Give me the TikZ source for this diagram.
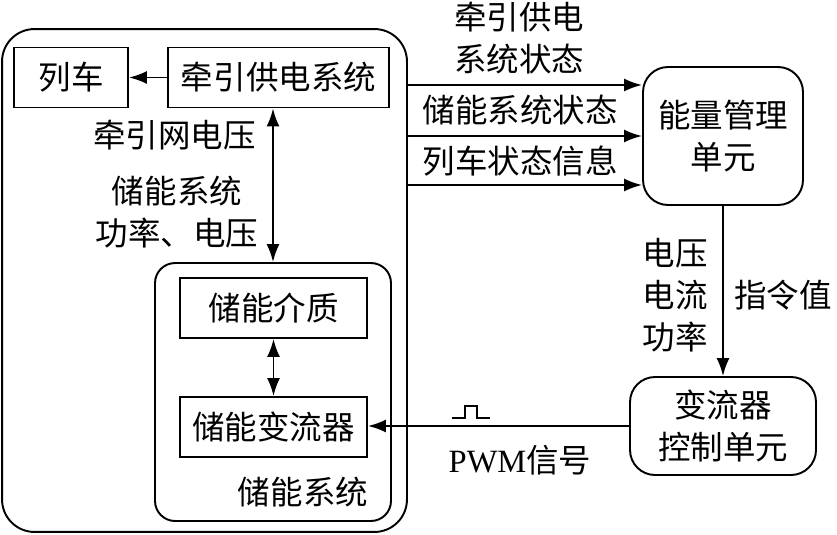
\documentclass[tikz,border=0pt]{standalone}
\usepackage{fontspec}
\setmainfont{Liberation Serif}
\newfontfamily\cjk{Noto Sans CJK SC}
\usetikzlibrary{arrows.meta,positioning,calc}

\begin{document}
\begin{tikzpicture}[x=0.02cm, y=-0.02cm, font=\cjk\fontsize{18.5}{23.8}\selectfont, >={Latex[length=3.6mm,width=2.6mm]}, line width=1.1pt]
  \tikzstyle{blk}=[draw,minimum height=1.2cm,inner sep=0pt]
  \tikzstyle{rblk}=[draw,rounded corners=0.5cm,inner sep=0pt,align=center]
  \tikzstyle{lbl}=[inner sep=0pt,align=center]
  \useasboundingbox (0,0) rectangle (837,534);
  % traction side
  \node[rblk, rounded corners=0.65cm, minimum width=8.1cm, minimum height=10.06cm] (rail) at (204.5,280.5) {};
  \node[blk, minimum width=2.28cm] (train) at (71,77.5) {列车};
  \node[blk, minimum width=4.42cm] (tps) at (278.5,77.5) {牵引供电系统};
  \node[rblk, rounded corners=0.4cm, minimum width=4.72cm, minimum height=5.16cm] (ess) at (273,392) {};
  \node[blk, minimum width=3.74cm] (medium) at (273.5,308) {储能介质};
  \node[blk, minimum width=3.74cm] (pcs) at (273.5,427) {储能变流器};
  \node[lbl] (esslbl) at (303,492) {储能系统};
  \node[lbl] (gridv) at (174.5,135) {牵引网电压};
  \node[lbl] (esspv) at (177,212) {储能系统\\功率、电压};
  \draw[->] (tps) -- (train);
  \draw[<->] (ess.north |- tps.south) -- (ess.north);
  \draw[<->] (medium) -- (pcs);
  % control side
  \node[rblk, minimum width=3.2cm, minimum height=2.76cm] (ems) at (723,136) {能量管理\\单元};
  \node[rblk, minimum width=3.72cm, minimum height=1.96cm] (cvc) at (723,426) {变流器\\控制单元};
  \coordinate (s1) at (407,85);
  \coordinate (s2) at (407,136);
  \coordinate (s3) at (407,185);
  \draw[->] (s1) -- (s1 -| ems.west);
  \draw[->] (s2) -- (s2 -| ems.west);
  \draw[->] (s3) -- (s3 -| ems.west);
  \node[lbl] (tpsstate) at (519,38.5) {牵引供电\\系统状态};
  \node[lbl] (essstate) at (520,110) {储能系统状态};
  \node[lbl] (trainstate) at (520,161) {列车状态信息};
  \draw[->] (ems.south) -- (cvc.north);
  \node[lbl] (meas) at (675,295) {电压\\电流\\功率};
  \node[lbl] (cmd) at (783,295) {指令值};
  \draw[->] (cvc.west) -- (cvc.west -| pcs.east);
  \draw[line width=0.8pt] (452,418) -- (465,418) -- (465,406) -- (477,406) -- (477,418) -- (490,418);
  \node[lbl] (pwm) at (520,460) {{\rmfamily PWM}信号};
\end{tikzpicture}
\end{document}
